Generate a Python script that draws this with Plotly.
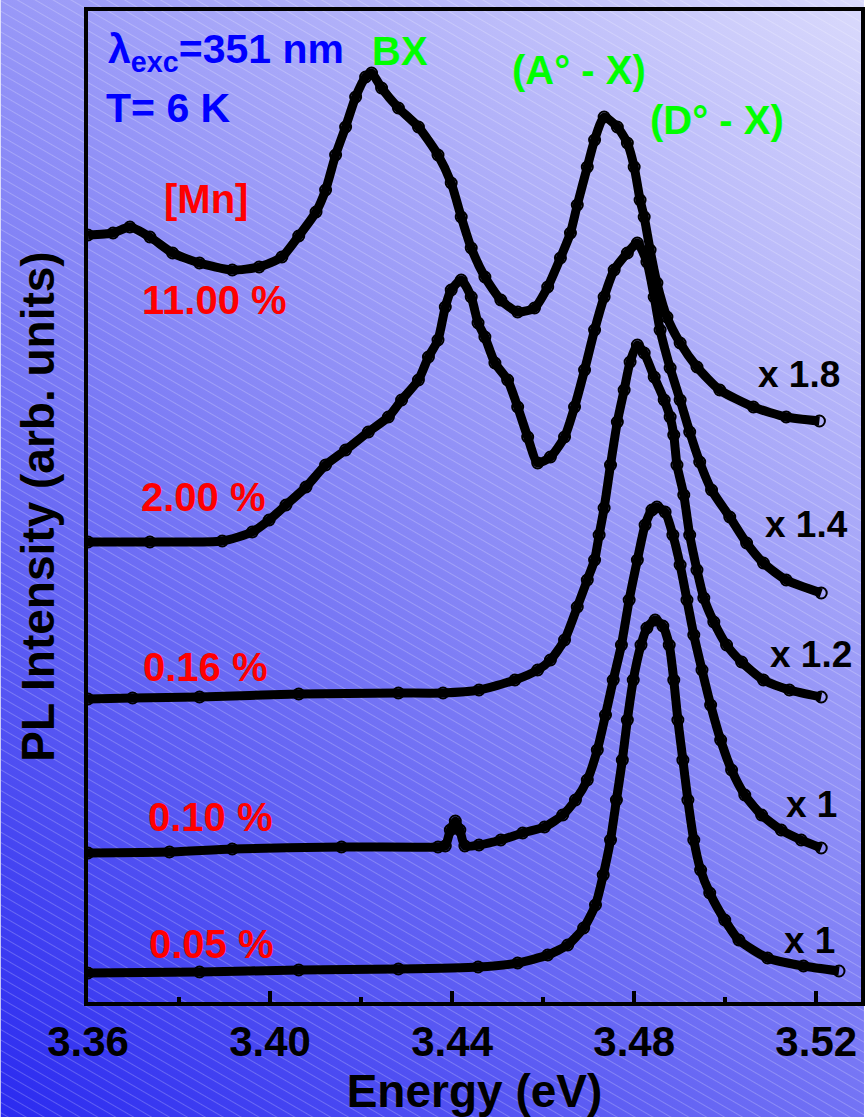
import base64
import plotly.graph_objects as go

# Photoluminescence spectra of (Zn,Mn)O films, T = 6 K, excitation 351 nm.
# Intensities are in arbitrary units and already include the vertical offsets
# and the scale factors written at the right end of each spectrum.

E_011 = [3.3600, 3.3655, 3.3692, 3.3736, 3.3786, 3.3845, 3.3917, 3.3976, 3.4026, 3.4063,
         3.4101, 3.4122, 3.4144, 3.4166, 3.4188, 3.4210, 3.4223, 3.4245, 3.4282, 3.4326,
         3.4369, 3.4398, 3.4420, 3.4442, 3.4472, 3.4507, 3.4544, 3.4581, 3.4610, 3.4638,
         3.4660, 3.4675, 3.4697, 3.4713, 3.4734, 3.4763, 3.4785, 3.4800, 3.4813, 3.4822,
         3.4835, 3.4850, 3.4872, 3.4901, 3.4938, 3.4988, 3.5062, 3.5134, 3.5207]
I_011 = [7.67, 7.69, 7.75, 7.65, 7.49, 7.39, 7.32, 7.35, 7.45, 7.66,
         7.90, 8.12, 8.47, 8.75, 9.05, 9.25, 9.29, 9.14, 8.94, 8.75,
         8.47, 8.19, 7.85, 7.54, 7.25, 7.02, 6.90, 6.94, 7.15, 7.44,
         7.69, 7.97, 8.35, 8.62, 8.85, 8.75, 8.59, 8.35, 8.02, 7.85,
         7.52, 7.19, 6.85, 6.59, 6.35, 6.12, 5.95, 5.85, 5.81]

E_200 = [3.3600, 3.3736, 3.3895, 3.3961, 3.3998, 3.4035, 3.4079, 3.4122, 3.4166, 3.4216,
         3.4260, 3.4289, 3.4326, 3.4348, 3.4369, 3.4385, 3.4398, 3.4420, 3.4442, 3.4457,
         3.4472, 3.4494, 3.4522, 3.4544, 3.4566, 3.4588, 3.4616, 3.4647, 3.4669, 3.4691,
         3.4713, 3.4734, 3.4756, 3.4785, 3.4807, 3.4828, 3.4844, 3.4857, 3.4879, 3.4901,
         3.4922, 3.4944, 3.4970, 3.5010, 3.5047, 3.5084, 3.5134, 3.5211]
I_200 = [4.60, 4.60, 4.61, 4.70, 4.82, 4.97, 5.15, 5.37, 5.52, 5.70,
         5.85, 6.02, 6.22, 6.45, 6.62, 6.95, 7.12, 7.22, 7.05, 6.79,
         6.65, 6.39, 6.22, 5.95, 5.65, 5.39, 5.45, 5.65, 5.95, 6.32,
         6.72, 7.05, 7.32, 7.49, 7.59, 7.40, 7.05, 6.72, 6.34, 6.02,
         5.70, 5.40, 5.12, 4.85, 4.59, 4.39, 4.22, 4.09]

E_016 = [3.3600, 3.3698, 3.3845, 3.4063, 3.4282, 3.4380, 3.4459, 3.4538, 3.4588, 3.4616,
         3.4647, 3.4675, 3.4697, 3.4713, 3.4723, 3.4734, 3.4748, 3.4763, 3.4778, 3.4791,
         3.4807, 3.4822, 3.4844, 3.4866, 3.4879, 3.4887, 3.4894, 3.4909, 3.4922, 3.4938,
         3.4953, 3.4975, 3.5003, 3.5036, 3.5084, 3.5141, 3.5211]
I_016 = [3.03, 3.04, 3.05, 3.08, 3.09, 3.09, 3.12, 3.22, 3.32, 3.42,
         3.62, 3.95, 4.22, 4.42, 4.67, 4.94, 5.37, 5.80, 6.12, 6.40,
         6.57, 6.49, 6.25, 6.02, 5.85, 5.67, 5.37, 5.07, 4.67, 4.32,
         4.04, 3.80, 3.57, 3.40, 3.22, 3.12, 3.05]

E_010 = [3.3600, 3.3779, 3.3917, 3.4157, 3.4369, 3.4385, 3.4396, 3.4407, 3.4417, 3.4428,
         3.4459, 3.4507, 3.4555, 3.4603, 3.4643, 3.4671, 3.4697, 3.4719, 3.4737, 3.4754,
         3.4772, 3.4789, 3.4807, 3.4824, 3.4839, 3.4850, 3.4868, 3.4885, 3.4901, 3.4916,
         3.4931, 3.4949, 3.4968, 3.4990, 3.5014, 3.5043, 3.5080, 3.5123, 3.5167, 3.5211]
I_010 = [1.49, 1.50, 1.53, 1.55, 1.55, 1.56, 1.72, 1.81, 1.72, 1.56,
         1.57, 1.62, 1.69, 1.75, 1.87, 2.02, 2.22, 2.52, 2.87, 3.22,
         3.57, 4.02, 4.42, 4.77, 4.92, 4.95, 4.90, 4.67, 4.37, 4.02,
         3.67, 3.32, 2.97, 2.62, 2.32, 2.07, 1.87, 1.72, 1.62, 1.54]

E_005 = [3.3600, 3.3845, 3.4063, 3.4282, 3.4457, 3.4544, 3.4610, 3.4654, 3.4689, 3.4715,
         3.4732, 3.4748, 3.4761, 3.4774, 3.4785, 3.4798, 3.4815, 3.4828, 3.4846, 3.4863,
         3.4877, 3.4887, 3.4896, 3.4907, 3.4918, 3.4931, 3.4946, 3.4966, 3.4999, 3.5030,
         3.5093, 3.5172, 3.5250]
I_005 = [0.29, 0.30, 0.32, 0.33, 0.35, 0.39, 0.47, 0.57, 0.74, 0.97,
         1.27, 1.62, 2.02, 2.42, 2.82, 3.22, 3.57, 3.74, 3.82, 3.76,
         3.57, 3.22, 2.82, 2.42, 2.02, 1.62, 1.32, 1.09, 0.82, 0.62,
         0.44, 0.36, 0.31]

MN_LABELS = ["11.00 %", "2.00 %", "0.16 %", "0.10 %", "0.05 %"]
SCALE_LABELS = ["x 1.8", "x 1.4", "x 1.2", "x 1", "x 1"]
TICK_VALS = [3.36, 3.40, 3.44, 3.48, 3.52]
TICK_TEXT = ["3.36", "3.40", "3.44", "3.48", "3.52"]

FONT = "Liberation Sans, Arial, Helvetica, sans-serif"
W, H = 868, 1117
L, R, T, B = 88, 3, 11, 115
PW, PH = W - L - R, H - T - B


def paper(px, py):
    """Pixel position on the page -> paper coordinates of the plot area."""
    return (px - L) / PW, (H - B - py) / PH


# Page background: diagonal blue gradient with fine light hatching
svg = f"""<svg xmlns="http://www.w3.org/2000/svg" width="{W}" height="{H}" viewBox="0 0 {W} {H}" preserveAspectRatio="none">
<defs>
<linearGradient id="g" gradientUnits="userSpaceOnUse" x1="0" y1="{H}" x2="905" y2="30">
<stop offset="0" stop-color="rgb(42,42,240)"/>
<stop offset="0.5" stop-color="rgb(134,134,246)"/>
<stop offset="1" stop-color="rgb(218,218,252)"/>
</linearGradient>
<pattern id="p" width="12" height="9" patternUnits="userSpaceOnUse" patternTransform="rotate(30)">
<line x1="0" y1="0.5" x2="12" y2="0.5" stroke="white" stroke-opacity="0.22" stroke-width="1"/>
</pattern>
</defs>
<rect width="{W}" height="{H}" fill="url(#g)"/>
<rect width="{W}" height="{H}" fill="url(#p)"/>
</svg>"""
bg_src = "data:image/svg+xml;base64," + base64.b64encode(svg.encode()).decode()

fig = go.Figure()

for e, i in [(E_011, I_011), (E_200, I_200), (E_016, I_016), (E_010, I_010), (E_005, I_005)]:
    fig.add_trace(go.Scatter(
        x=e, y=i, mode="lines+markers",
        line=dict(color="black", width=9, shape="spline", smoothing=0.6),
        marker=dict(symbol="circle-open", size=11, color="black", line=dict(width=2)),
        showlegend=False, hoverinfo="skip",
    ))

ann = []


def add_text(text, px, py, color, size, xanchor="center"):
    ax, ay = paper(px, py)
    ann.append(dict(text=f"<b>{text}</b>", x=ax, y=ay, xref="paper", yref="paper",
                    xanchor=xanchor, yanchor="middle", showarrow=False,
                    font=dict(family=FONT, size=size, color=color)))


add_text("λ<sub>exc</sub>=351 nm", 106, 52, "#0000ff", 41, xanchor="left")
add_text("T= 6 K", 104, 108, "#0000ff", 41, xanchor="left")
add_text("BX", 402, 51, "#00ff00", 40)
add_text("(A° - X)", 582, 70, "#00ff00", 40)
add_text("(D° - X)", 720, 120, "#00ff00", 40)
add_text("[Mn]", 207, 199, "#ff0000", 40)

for lab, (px, py) in zip(MN_LABELS, [(215, 300), (204, 497), (206, 667), (211, 817), (212, 944)]):
    add_text(lab, px, py, "#ff0000", 40)
for lab, (px, py) in zip(SCALE_LABELS, [(803, 374), (810, 524), (815, 654), (815, 804), (813, 940)]):
    add_text(lab, px, py, "black", 37)

fig.update_layout(
    width=W, height=H,
    margin=dict(l=L, r=R, t=T, b=B),
    paper_bgcolor="rgba(0,0,0,0)",
    plot_bgcolor="rgba(0,0,0,0)",
    images=[dict(source=bg_src, xref="paper", yref="paper",
                 x=-L / PW, y=1 + T / PH, sizex=W / PW, sizey=H / PH,
                 sizing="stretch", layer="below", xanchor="left", yanchor="top")],
    annotations=ann,
    xaxis=dict(
        range=[3.36, 3.36 + PW / 4575],
        tickvals=TICK_VALS, ticktext=TICK_TEXT,
        ticks="inside", ticklen=11, tickwidth=4, tickcolor="black",
        minor=dict(ticks="inside", ticklen=5, tickwidth=4, tickcolor="black",
                   tickvals=[3.38, 3.42, 3.46, 3.50]),
        showline=True, linewidth=4, linecolor="black", mirror=True,
        showgrid=False, zeroline=False,
        tickfont=dict(family=FONT, size=42, color="black", weight="bold"),
        title=dict(text="<b>Energy (eV)</b>", standoff=4,
                   font=dict(family=FONT, size=46, color="black")),
    ),
    yaxis=dict(
        range=[0, PH / 100],
        showticklabels=False, ticks="",
        showline=True, linewidth=4, linecolor="black", mirror=True,
        showgrid=False, zeroline=False,
        title=dict(text="<b>PL Intensity (arb. units)</b>", standoff=16,
                   font=dict(family=FONT, size=46, color="black")),
    ),
)

fig.write_html("out.html")
